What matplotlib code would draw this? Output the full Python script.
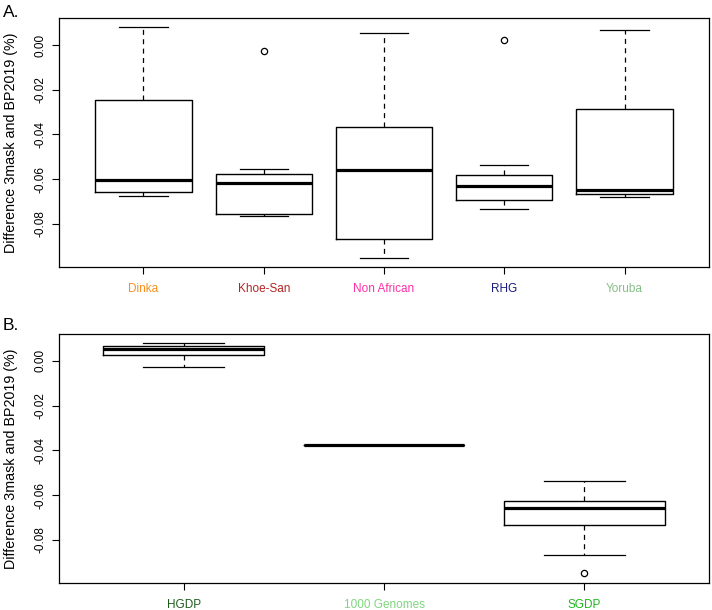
import matplotlib
matplotlib.use("Agg")
import matplotlib.pyplot as plt

plt.rcParams['font.family'] = ['Liberation Sans', 'DejaVu Sans']

# ---- Panel A data (box statistics) ----
groups_a = ["Dinka", "Khoe-San", "Non African", "RHG", "Yoruba"]
colors_a = ["#F7901E", "#B22525", "#FF2FA8", "#1A1A80", "#86BF86"]
whislo_a = [-0.0677, -0.0763, -0.0951, -0.0732, -0.0679]
q1_a     = [-0.0659, -0.0757, -0.0866, -0.0693, -0.0668]
med_a    = [-0.0605, -0.0619, -0.0558, -0.0629, -0.0650]
q3_a     = [-0.0244, -0.0577, -0.0367, -0.0582, -0.0287]
whishi_a = [0.0080, -0.0555, 0.0054, -0.0537, 0.0067]
fliers_a = [[], [-0.0028], [], [0.0024], []]

# ---- Panel B data ----
groups_b = ["HGDP", "1000 Genomes", "SGDP"]
colors_b = ["#1E5A1E", "#7ED67E", "#1DB81D"]
whislo_b = [-0.0028, -0.0377, -0.0869]
q1_b     = [0.0024, -0.0377, -0.0732]
med_b    = [0.0053, -0.0377, -0.0659]
q3_b     = [0.0065, -0.0377, -0.0626]
whishi_b = [0.0078, -0.0377, -0.0536]
fliers_b = [[], [], [-0.0949]]

yticks = [0.00, -0.02, -0.04, -0.06, -0.08]
ylabel = "Difference 3mask and BP2019 (%)"
ylim = (-0.0992, 0.0121)

W, H = 712, 610
fig = plt.figure(figsize=(W / 100, H / 100), dpi=100)

def make_axes(top_px, bottom_px):
    left, right = 59.3, 708.7
    return fig.add_axes([left / W, 1 - bottom_px / H, (right - left) / W,
                         (bottom_px - top_px) / H])

def draw(ax, groups, colors, lo, q1, med, q3, hi, fl):
    stats = []
    for i, g in enumerate(groups):
        stats.append(dict(label=g, whislo=lo[i], q1=q1[i], med=med[i],
                          q3=q3[i], whishi=hi[i], fliers=fl[i]))
    n = len(groups)
    pos = list(range(1, n + 1))
    ax.bxp(stats, positions=pos, widths=0.8, capwidths=0.4,
           boxprops=dict(color="black", lw=1.0),
           whiskerprops=dict(color="black", lw=0.9, linestyle=(0, (4, 3.5))),
           capprops=dict(color="black", lw=0.9),
           medianprops=dict(color="black", lw=2.3, solid_capstyle="butt"),
           flierprops=dict(marker="o", markersize=4.5, markerfacecolor="none",
                           markeredgecolor="black", markeredgewidth=0.9))
    span = n
    ax.set_xlim(0.5 - 0.04 * span, n + 0.5 + 0.04 * span)
    ax.set_ylim(*ylim)
    ax.set_yticks(yticks)
    ax.set_yticklabels(["%.2f" % v for v in yticks], rotation=90, va="center")
    ax.set_xticks(pos)
    ax.set_xticklabels(groups)
    for lab, c in zip(ax.get_xticklabels(), colors):
        lab.set_color(c)
    ax.tick_params(axis="both", length=5, width=0.8, labelsize=8.5)
    ax.tick_params(axis="x", pad=6.5)
    ax.tick_params(axis="y", pad=4)
    for s in ax.spines.values():
        s.set_linewidth(0.9)
    ax.set_ylabel(ylabel, fontsize=10.3)
    ax.yaxis.set_label_coords(-0.063, 0.5)

axA = make_axes(18, 266.7)
draw(axA, groups_a, colors_a, whislo_a, q1_a, med_a, q3_a, whishi_a, fliers_a)
axB = make_axes(333.7, 583)
draw(axB, groups_b, colors_b, whislo_b, q1_b, med_b, q3_b, whishi_b, fliers_b)

fig.text(3 / W, 1 - 5 / H, "A.", fontsize=12.5, va="top", ha="left")
fig.text(3 / W, 1 - 318 / H, "B.", fontsize=12.5, va="top", ha="left")

fig.savefig("out.png", dpi=100)
